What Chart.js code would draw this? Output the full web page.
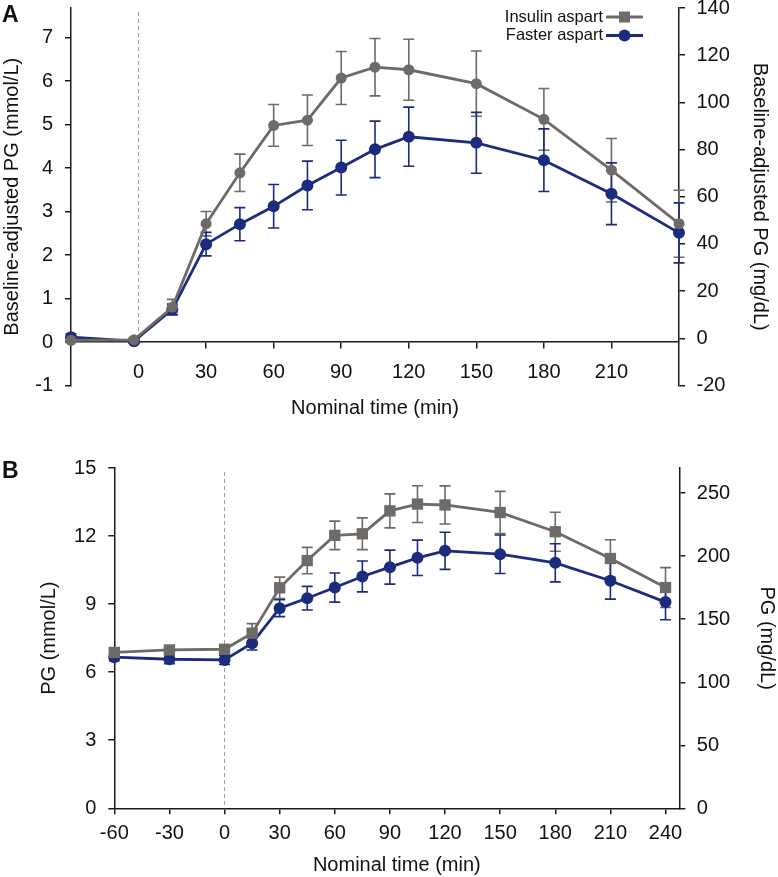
<!DOCTYPE html>
<html>
<head>
<meta charset="utf-8">
<script src="https://cdn.jsdelivr.net/npm/chart.js@4.4.1/dist/chart.umd.min.js"></script>
<style>
body{margin:0;background:#fff;width:778px;height:877px;position:relative;overflow:hidden;font-family:"Liberation Sans",Arial,sans-serif}
canvas{position:absolute;left:0}
#chartA{top:0}
#chartB{top:440px}
.panel{position:absolute;left:2px;font-weight:bold;font-size:23px;line-height:23px;color:#111}
</style>
</head>
<body>
<canvas id="chartA" width="778" height="420"></canvas>
<canvas id="chartB" width="778" height="437"></canvas>
<div class="panel" style="top:3px">A</div>
<div class="panel" style="top:459px">B</div>
<script>

// panel A: baseline-adjusted PG
const timesA=[-30,-2,15,30,45,60,75,90,105,120,150,180,210,240]
const aspartA=[0.04,0.05,0.8,2.72,3.89,4.98,5.1,6.07,6.32,6.26,5.94,5.12,3.95,2.72]
const aspartErrA=[0.05,0.05,0.18,0.28,0.43,0.48,0.58,0.61,0.66,0.7,0.75,0.71,0.73,0.77]
const fasterA=[0.11,0.02,0.75,2.25,2.71,3.12,3.6,4.01,4.43,4.72,4.58,4.18,3.41,2.51]
const fasterErrA=[0.08,0.05,0.12,0.27,0.38,0.5,0.56,0.63,0.65,0.68,0.7,0.72,0.71,0.69]
const xTicksA=[0,30,60,90,120,150,180,210]
const yTicksA=[-1,0,1,2,3,4,5,6,7]
const y2TicksA=[-20,0,20,40,60,80,100,120,140]

// panel B: PG
const timesB=[-60,-30,0,15,30,45,60,75,90,105,120,150,180,210,240]
const aspartB=[6.87,6.98,7.01,7.72,9.72,10.92,12.03,12.1,13.11,13.41,13.37,13.04,12.19,11.01,9.73]
const aspartErrB=[0.15,0.15,0.15,0.42,0.47,0.58,0.63,0.7,0.75,0.81,0.84,0.93,0.86,0.83,0.88]
const fasterB=[6.66,6.57,6.54,7.28,8.82,9.26,9.73,10.22,10.63,11.04,11.35,11.2,10.82,10.03,9.09]
const fasterErrB=[0.15,0.2,0.2,0.3,0.37,0.52,0.64,0.68,0.75,0.78,0.82,0.85,0.84,0.81,0.78]
const xTicksB=[-60,-30,0,30,60,90,120,150,180,210,240]
const yTicksB=[0,3,6,9,12,15]
const y2TicksB=[0,50,100,150,200,250]

const GRAY="#6d6a68"
const NAVY="#1b2b7e"
const INK="#1a1a1a"
const FONT="'Liberation Sans', Arial, sans-serif"

Chart.defaults.font.family=FONT
Chart.defaults.color="#111"

function pts(xs,ys){
return xs.map((x,i)=>({x:x,y:ys[i]}))
}

const errorBars={
id:"errorBars",
beforeDatasetsDraw(chart){
const ctx=chart.ctx
const xs=chart.scales.x
chart.data.datasets.forEach((ds,i)=>{
const ys=chart.scales[chart.getDatasetMeta(i).yAxisID]
ctx.save()
ctx.strokeStyle=ds.borderColor
ctx.lineWidth=1.6
ds.data.forEach((p,j)=>{
const e=ds.errors[j]
const x=xs.getPixelForValue(p.x)
const y1=ys.getPixelForValue(p.y+e)
const y2=ys.getPixelForValue(p.y-e)
ctx.beginPath()
ctx.moveTo(x,y1)
ctx.lineTo(x,y2)
ctx.moveTo(x-5.5,y1)
ctx.lineTo(x+5.5,y1)
ctx.moveTo(x-5.5,y2)
ctx.lineTo(x+5.5,y2)
ctx.stroke()
})
ctx.restore()
})
}
}

const zeroLine={
id:"zeroLine",
beforeDatasetsDraw(chart){
const ctx=chart.ctx
const x=chart.scales.x.getPixelForValue(0)
ctx.save()
ctx.strokeStyle="#9a9a9a"
ctx.lineWidth=1
ctx.setLineDash([4,3])
ctx.beginPath()
ctx.moveTo(x,chart.chartArea.top+4)
ctx.lineTo(x,chart.scales.y.getPixelForValue(0))
ctx.stroke()
ctx.restore()
}
}

const sideLegend={
id:"sideLegend",
afterDraw(chart,args,opts){
if(!opts.show) return
const ctx=chart.ctx
const x2=chart.chartArea.right-opts.right
const x1=x2-37
ctx.save()
chart.data.datasets.forEach((ds,i)=>{
const y=chart.chartArea.top+opts.top+i*opts.gap
ctx.strokeStyle=ds.borderColor
ctx.fillStyle=ds.borderColor
ctx.lineWidth=2.8
ctx.beginPath()
ctx.moveTo(x1,y)
ctx.lineTo(x2,y)
ctx.stroke()
const cx=(x1+x2)/2
if(ds.legendStyle==="rect"){
ctx.fillRect(cx-5.5,y-5.5,11,11)
}else{
ctx.beginPath()
ctx.arc(cx,y,6,0,Math.PI*2)
ctx.fill()
}
ctx.fillStyle="#111"
ctx.font="16.5px "+FONT
ctx.textAlign="right"
ctx.textBaseline="middle"
ctx.fillText(ds.label,x1-3,y)
})
ctx.restore()
}
}

function yAxis(pos,min,max,ticks,title,width,titlePad,tickPad){
return {
type:"linear",
position:pos,
min:min,
max:max,
border:{color:INK,width:1.5},
grid:{drawOnChartArea:false,tickLength:6,color:INK,lineWidth:1.5},
ticks:{font:{size:20},color:"#111",padding:tickPad},
title:{display:true,text:title,font:{size:20},color:"#111",padding:{top:titlePad,bottom:0}},
afterBuildTicks:s=>{s.ticks=ticks.map(v=>({value:v}))},
afterFit:s=>{s.width=width;s.paddingTop=0;s.paddingBottom=0}
}
}

function xAxis(pos,min,max,ticks,height,tickPad,hideZero){
return {
type:"linear",
position:pos,
min:min,
max:max,
border:{color:INK,width:1.5},
grid:{
drawOnChartArea:false,
tickLength:6,
lineWidth:1.5,
color:c=>(hideZero&&c.tick&&c.tick.value===0)?"rgba(0,0,0,0)":INK
},
ticks:{font:{size:20},color:"#111",padding:tickPad,maxRotation:0},
title:{display:true,text:"Nominal time (min)",font:{size:20},color:"#111",padding:{top:0,bottom:0}},
afterBuildTicks:s=>{s.ticks=ticks.map(v=>({value:v}))},
afterFit:s=>{s.height=height;s.paddingLeft=0;s.paddingRight=0}
}
}

function series(label,xs,ys,errs,color,style,radius,legendStyle){
return {
label:label,
data:pts(xs,ys),
errors:errs,
borderColor:color,
backgroundColor:color,
pointBackgroundColor:color,
pointBorderColor:color,
pointBorderWidth:0,
pointStyle:style,
pointRadius:radius,
borderWidth:2.8,
legendStyle:legendStyle,
clip:false,
yAxisID:"y"
}
}

function baseOptions(padding){
return {
responsive:false,
animation:false,
layout:{padding:padding,autoPadding:false},
plugins:{legend:{display:false},tooltip:{enabled:false}}
}
}

const optsA=baseOptions({top:8,bottom:34.5,left:0,right:0})
optsA.plugins.sideLegend={show:true,right:36,top:9,gap:18.5}
optsA.scales={
x:xAxis({y:0},-30,240,xTicksA,78.3,12,true),
y:yAxis("left",-1,7.68,yTicksA,"Baseline-adjusted PG (mmol/L)",71,0,12),
y2:yAxis("right",-20,140,y2TicksA,"Baseline-adjusted PG (mg/dL)",99,6,11.5)
}

new Chart(document.getElementById("chartA"),{
type:"line",
data:{
datasets:[
series("Insulin aspart",timesA,aspartA,aspartErrA,GRAY,"circle",5.5,"rect"),
series("Faster aspart",timesA,fasterA,fasterErrA,NAVY,"circle",6,"circle")
]
},
options:optsA,
plugins:[zeroLine,errorBars,sideLegend]
})

const optsB=baseOptions({top:28,bottom:0,left:0,right:0})
optsB.plugins.sideLegend={show:false}
optsB.scales={
x:xAxis("bottom",-60,247.5,xTicksB,68.7,7.4,false),
y:yAxis("left",0,15,yTicksB,"PG (mmol/L)",114.3,37,12),
y2:yAxis("right",0,270,y2TicksB,"PG (mg/dL)",98.7,-1,11.5)
}

new Chart(document.getElementById("chartB"),{
type:"line",
data:{
datasets:[
series("Insulin aspart",timesB,aspartB,aspartErrB,GRAY,"rect",8,"rect"),
series("Faster aspart",timesB,fasterB,fasterErrB,NAVY,"circle",6,"circle")
]
},
options:optsB,
plugins:[zeroLine,errorBars,sideLegend]
})

</script>
</body>
</html>
